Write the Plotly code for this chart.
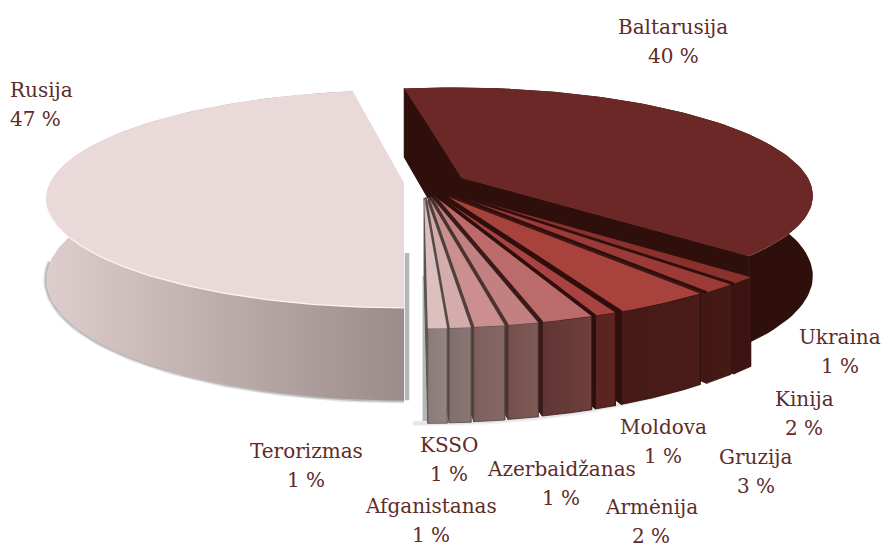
import math
import plotly.graph_objects as go

# Data, clockwise from the back of the pie
names = ["Baltarusija", "Ukraina", "Kinija", "Gruzija", "Moldova", "Armėnija",
         "Azerbaidžanas", "KSSO", "Afganistanas", "Terorizmas", "Rusija"]
percent_labels = [40, 1, 2, 3, 1, 2, 1, 1, 1, 1, 47]
values = [39.5, 1.1, 1.4, 3.8, 0.85, 2.0, 1.17, 1.18, 0.82, 0.72, 47.26]

# Styles
top_colors = ["#6b2827", "#8b312d", "#9b3a36", "#a8423d", "#a84341", "#bb6b69",
              "#c38080", "#ca8f8e", "#d5acac", "#dcc0c0", "#e9dad9"]
side_left = ["#2e0f0c", "#3d1512", "#461a16", "#4a1c19", "#5e2522", "#6f3f3d",
             "#7f5b57", "#856866", "#8a7775", "#938482", "#ddcdcc"]
side_right = ["#2e0f0c", "#3a1411", "#421814", "#451a17", "#5a2320", "#5f3533",
              "#754f4c", "#7e5f5d", "#826e6c", "#8b7b79", "#9a8c8a"]
gap_colors = ["#2e0f0c", "#3a1411", "#421814", "#2e0f0c", "#2e0f0c", "#3a1a18",
              "#4a3230", "#4f3f3d", "#554a48", "#5c5452", "#e9dad9"]
label_pos = [(673, 27, "center"), (840, 337, "center"), (804, 399, "center"),
             (756, 457, "center"), (663, 427, "center"), (651, 507, "center"),
             (561, 469, "center"), (449, 445, "center"), (431, 506, "center"),
             (306, 451, "center"), (8, 90, "left")]
LINE_GAP = 29
LABEL_COLOR = "#5e2c28"

# Projection of the pie's plane
X0, Y0, R, K, P, H = 403, 183, 354, 0.301, 0.147, 79


def project(x, z, h=0.0):
    s = 1 / (1 - P * z / R)
    return X0 + x * s, Y0 + K * z * s + h * s


def rim(a, b, ox, oz, h=0.0, n=80, scale=1.0):
    pts = []
    for i in range(n + 1):
        t = math.radians(a + (b - a) * i / n)
        pts.append(project(ox + scale * R * math.sin(t), oz - scale * R * math.cos(t), h))
    return pts


fig = go.Figure()


def poly(pts, color=None, line=None, width=0, grad=None):
    xs = [p[0] for p in pts] + [pts[0][0]]
    ys = [p[1] for p in pts] + [pts[0][1]]
    kw = dict(x=xs, y=ys, mode="lines", fill="toself", showlegend=False, hoverinfo="skip",
              line=dict(color=line or "rgba(0,0,0,0)", width=width))
    if grad:
        kw["fillgradient"] = dict(type="horizontal", colorscale=[[0, grad[0]], [1, grad[1]]])
    else:
        kw["fillcolor"] = color
    fig.add_trace(go.Scatter(**kw))


def stroke(pts, color, width):
    fig.add_trace(go.Scatter(x=[p[0] for p in pts], y=[p[1] for p in pts], mode="lines",
                             showlegend=False, hoverinfo="skip",
                             line=dict(color=color, width=width)))


# angular extents
total = sum(values)
start = -9.5
ext = []
a = start
for v in values:
    b = a + 360 * v / total
    ext.append((a, b))
    a = b
group_a, group_b = ext[1][0], ext[9][1]


def offset(i):
    if i == 0:
        return 59, -17
    if i == len(values) - 1:
        return 1, 0
    t = (group_b - (ext[i][0] + ext[i][1]) / 2) / (group_b - group_a)
    return 20 + 30 * t, 49 - 14 * t


def draw(i):
    a, b = ext[i]
    ox, oz = offset(i)
    sc = 0.985 if i == 0 else 1.0
    apex = project(ox, oz)
    apex_b = project(ox, oz, H)
    top = rim(a, b, ox, oz, scale=sc)
    bot = rim(a, b, ox, oz, H, scale=sc)
    side = top + bot[::-1]
    if i < len(values) - 1:
        poly([apex, top[0], bot[0], apex_b], gap_colors[i], gap_colors[i], 1)
        poly([apex, top[-1], bot[-1], apex_b], gap_colors[i], gap_colors[i], 1)
    poly(side, grad=(side_left[i], side_right[i]) if i == len(values) - 1 else (side_right[i], side_left[i]),
         line=gap_colors[i] if 0 < i < 10 else None, width=0.8 if 0 < i < 10 else 0)
    poly([apex] + top, top_colors[i])
    if 0 < i < 9:
        w = 1.0 + 1.8 * (9 - i) / 8
        stroke([apex, top[-1]], "#2e0f0c" if i < 5 else gap_colors[i], w)


def shadow(i, a, b, alpha=1.0):
    # soft shadow along the lower rim
    ox, oz = offset(i)
    pts = rim(a, b, ox, oz, H)
    stroke(pts, f"rgba(110,110,110,{0.2 * alpha})", 6)
    stroke(pts, f"rgba(110,110,110,{0.35 * alpha})", 3)


def edge_shadow(i, end, dx, h0):
    ox, oz = offset(i)
    r = rim(end, end, ox, oz, 0, 1)[0]
    pts = [(r[0] + dx, r[1] - h0), (r[0] + dx, r[1] + H * 1.17)]
    stroke(pts, "rgba(110,110,110,0.5)", 4.5)


shadow(10, ext[10][0], ext[10][0] + 90)
edge_shadow(10, ext[10][0], 3, 55)
edge_shadow(9, ext[9][1], -3, 52)
shadow(9, ext[1][0] + 10, ext[9][1] + 2, 0.35)
draw(10)
# light highlight along the front rim of the largest slice
a, b = ext[10]
stroke(rim(a, b - 95, 1, 0), "#fbf3f2", 1.3)
draw(0)
for i in range(1, 10):
    draw(i)

annotations = []
for i, n in enumerate(names):
    x, y, al = label_pos[i]
    for txt, yy in ((n, y), (f"{percent_labels[i]} %", y + LINE_GAP)):
        annotations.append(dict(x=x, y=yy, xref="x", yref="y", text=txt,
                                showarrow=False, align=al, xanchor=al, yanchor="middle",
                                font=dict(family="DejaVu Serif", size=20, color=LABEL_COLOR)))

fig.update_layout(width=885, height=547, margin=dict(l=0, r=0, t=0, b=0),
                  paper_bgcolor="white", plot_bgcolor="white", annotations=annotations,
                  xaxis=dict(range=[0, 885], visible=False),
                  yaxis=dict(range=[547, 0], visible=False))
fig.write_html("out.html", config={"displayModeBar": False},
               post_script="document.body.style.margin='0';document.body.style.overflow='hidden';")
